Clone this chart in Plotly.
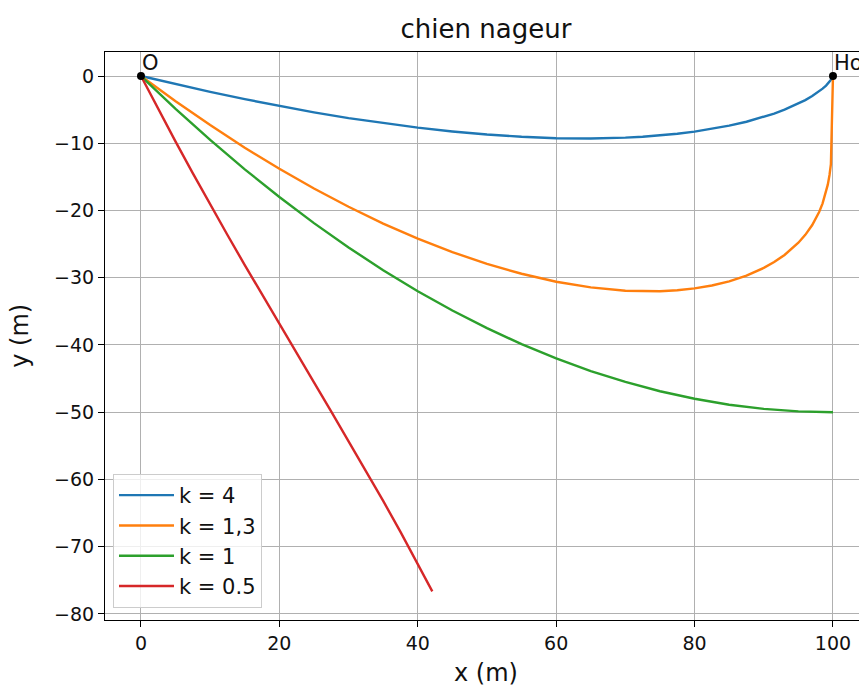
import plotly.graph_objects as go

# k = 4
x_k4 = [0, 5, 10, 15, 20, 25, 30, 35, 40, 45, 50, 55, 60, 65, 67.5, 70, 72.5, 75, 77.5, 80, 82.5, 85, 87.5, 90, 91.5, 93, 95, 96, 97, 98, 98.5, 99, 99.5, 99.8, 100]
y_k4 = [0, -1.22, -2.37, -3.45, -4.47, -5.40, -6.26, -7.02, -7.68, -8.25, -8.71, -9.04, -9.25, -9.29, -9.26, -9.17, -9.03, -8.84, -8.59, -8.27, -7.87, -7.38, -6.80, -6.08, -5.58, -5.00, -4.10, -3.58, -2.98, -2.29, -1.88, -1.42, -0.87, -0.45, 0]
# k = 1,3
x_k13 = [0, 5, 10, 15, 20, 25, 30, 35, 40, 45, 50, 55, 60, 65, 70, 72.5, 75, 77.5, 80, 82.5, 85, 87.5, 90, 91.5, 93, 95, 96, 97, 98, 98.5, 99, 99.25, 99.5, 99.7, 100]
y_k13 = [0, -3.75, -7.30, -10.66, -13.80, -16.73, -19.45, -21.94, -24.19, -26.19, -27.94, -29.41, -30.59, -31.44, -31.93, -32.02, -32.0, -31.87, -31.59, -31.15, -30.53, -29.68, -28.54, -27.67, -26.61, -24.80, -23.62, -22.16, -20.22, -18.94, -17.26, -16.16, -14.72, -13.1, 0]
# k = 1
x_k1 = [0, 5, 10, 15, 20, 25, 30, 35, 40, 45, 50, 55, 60, 65, 70, 75, 80, 85, 90, 95, 100]
y_k1 = [0, -4.88, -9.5, -13.88, -18.0, -21.88, -25.5, -28.88, -32.0, -34.88, -37.5, -39.88, -42.0, -43.88, -45.5, -46.88, -48.0, -48.88, -49.5, -49.88, -50.0]
# k = 0.5
x_k05 = [0, 2.5, 5, 7.5, 10, 12.5, 15, 17.5, 20, 22.5, 25, 27.5, 30, 32.5, 35, 37.5, 40, 40.5, 42.1]
y_k05 = [0, -4.94, -9.76, -14.48, -19.11, -23.65, -28.12, -32.53, -36.9, -41.24, -45.57, -49.91, -54.28, -58.70, -63.19, -67.80, -72.53, -73.5, -76.65]

pts_x = [0, 100]
pts_y = [0, 0]
pts_lbl = ["O", "Ho"]

x_ticks = [0, 20, 40, 60, 80, 100]
y_ticks = [0, -10, -20, -30, -40, -50, -60, -70, -80]

series = [
    ("k = 4", x_k4, y_k4, "#1f77b4"),
    ("k = 1,3", x_k13, y_k13, "#ff7f0e"),
    ("k = 1", x_k1, y_k1, "#2ca02c"),
    ("k = 0.5", x_k05, y_k05, "#d62728"),
]

FONT = "DejaVu Sans"
TXT = "#111111"
fig = go.Figure()
for name, xs, ys, c in series:
    fig.add_trace(go.Scatter(x=xs, y=ys, mode="lines", name=name,
                             line=dict(color=c, width=2.4)))

fig.add_trace(go.Scatter(x=pts_x, y=pts_y, mode="markers", showlegend=False,
                         marker=dict(color="black", size=8), cliponaxis=False))
for px, py, lbl in zip(pts_x, pts_y, pts_lbl):
    fig.add_annotation(x=px, y=py, text=lbl, showarrow=False, xanchor="left",
                       yanchor="bottom", xshift=-1, yshift=-1,
                       font=dict(family=FONT, size=21, color=TXT))

fig.add_annotation(xref="paper", yref="paper", x=0.5053, y=-0.093, text="x (m)",
                   showarrow=False, xanchor="center", yanchor="middle",
                   font=dict(family=FONT, size=24, color=TXT))
fig.add_annotation(xref="paper", yref="paper", x=-0.113, y=0.5, text="y (m)",
                   showarrow=False, xanchor="center", yanchor="middle", textangle=-90,
                   font=dict(family=FONT, size=24, color=TXT))

fig.update_layout(
    width=859, height=687,
    margin=dict(l=105, r=0, t=52, b=67),
    paper_bgcolor="white", plot_bgcolor="white",
    font=dict(family=FONT, size=19, color=TXT),
    title=dict(text="chien nageur", x=0.5053, xref="paper", xanchor="center",
               y=1, yref="paper", yanchor="bottom", pad=dict(b=14),
               font=dict(family=FONT, size=26, color=TXT)),
    legend=dict(x=0.0106, y=0.0211, xanchor="left", yanchor="bottom",
                bgcolor="rgba(255,255,255,0.8)", bordercolor="#cccccc", borderwidth=1,
                font=dict(family=FONT, size=21, color=TXT),
                tracegroupgap=0, itemwidth=55),
)
fig.update_xaxes(range=[-5.2, 103.76], tickvals=x_ticks,
                 showgrid=True, gridcolor="#b0b0b0", gridwidth=1.1,
                 showline=True, linecolor="black", linewidth=1.1, mirror=True,
                 ticks="outside", ticklen=6, tickwidth=1.1, tickcolor="black",
                 zeroline=False,
                 tickfont=dict(family=FONT, size=19, color=TXT))
fig.update_yaxes(range=[-80.9, 3.57], tickvals=y_ticks,
                 showgrid=True, gridcolor="#b0b0b0", gridwidth=1.1,
                 showline=True, linecolor="black", linewidth=1.1, mirror=False,
                 ticks="outside", ticklen=6, tickwidth=1.1, tickcolor="black",
                 zeroline=False,
                 tickfont=dict(family=FONT, size=19, color=TXT))

fig.write_html("out.html", config={"displayModeBar": False},
               post_script="document.body.style.margin='0';document.body.style.overflow='hidden';")
